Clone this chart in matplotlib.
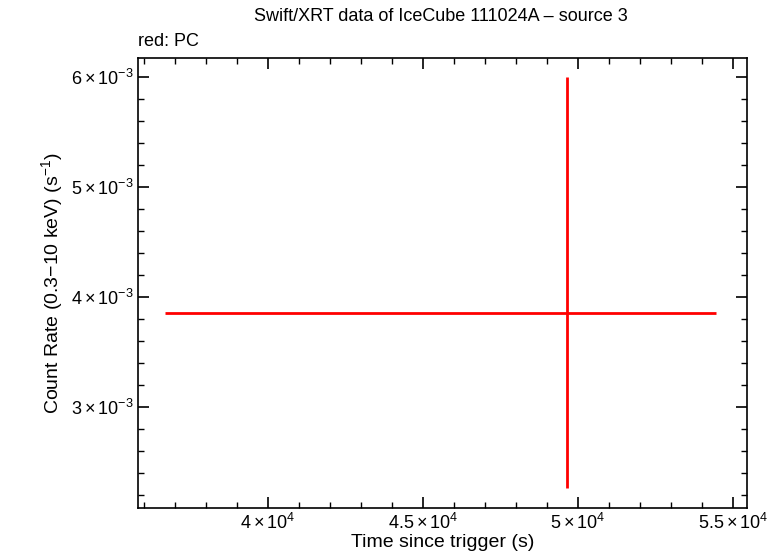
import matplotlib
matplotlib.use("Agg")
import matplotlib.pyplot as plt
from matplotlib.ticker import FixedLocator, MultipleLocator

plt.rcParams['font.family'] = ['Liberation Sans', 'DejaVu Sans']
plt.rcParams['mathtext.fontset'] = 'custom'
plt.rcParams['mathtext.rm'] = 'Liberation Sans'
plt.rcParams['mathtext.it'] = 'Liberation Sans:italic'
plt.rcParams['mathtext.default'] = 'regular'

t = [49645]
t_lo = [49645 - 36677]
t_hi = [54452 - 49645]
rate = [3.855e-3]
r_lo = [3.855e-3 - 2.264e-3]
r_hi = [6.0e-3 - 3.855e-3]

xticks = [40000, 45000, 50000, 55000]
xlabels = [r"$4\times10^{4}$", r"$4.5\times10^{4}$", r"$5\times10^{4}$", r"$5.5\times10^{4}$"]
yticks = [3e-3, 4e-3, 5e-3, 6e-3]
ylabels = [r"$3\times10^{-3}$", r"$4\times10^{-3}$", r"$5\times10^{-3}$", r"$6\times10^{-3}$"]

fig = plt.figure(figsize=(7.8, 5.58), dpi=100)
ax = fig.add_axes([138/780, 1-508/558, (747-138)/780, (508-58)/558])
ax.errorbar(t, rate, xerr=[t_lo, t_hi], yerr=[r_lo, r_hi], fmt='none', ecolor='red', elinewidth=2, capsize=0)
ax.set_xlim(35806, 55452)
ax.set_ylim(2.082e-3, 6.173e-3)
ax.xaxis.set_major_locator(FixedLocator(xticks))
ax.set_xticklabels(xlabels)
ax.yaxis.set_major_locator(FixedLocator(yticks))
ax.set_yticklabels(ylabels)
ax.xaxis.set_minor_locator(MultipleLocator(1000))
ax.yaxis.set_minor_locator(MultipleLocator(2e-4))
ax.tick_params(which='both', direction='in', top=True, right=True, labelsize=13)
ax.tick_params(which='major', length=8, width=1.2)
ax.tick_params(which='minor', length=4, width=1)
for s in ax.spines.values():
    s.set_linewidth(1.2)
ax.set_xlabel("Time since trigger (s)", fontsize=14, labelpad=1)
ax.set_ylabel(r"Count Rate (0.3$-$10 keV) (s$^{-1}$)", fontsize=14)
fig.text(0.565, 0.985, "Swift/XRT data of IceCube 111024A – source 3", ha='center', va='top', fontsize=13)
fig.text(138/780, 1-50/558, "red: PC", ha='left', va='bottom', fontsize=13)
fig.savefig("out.png", dpi=100)
